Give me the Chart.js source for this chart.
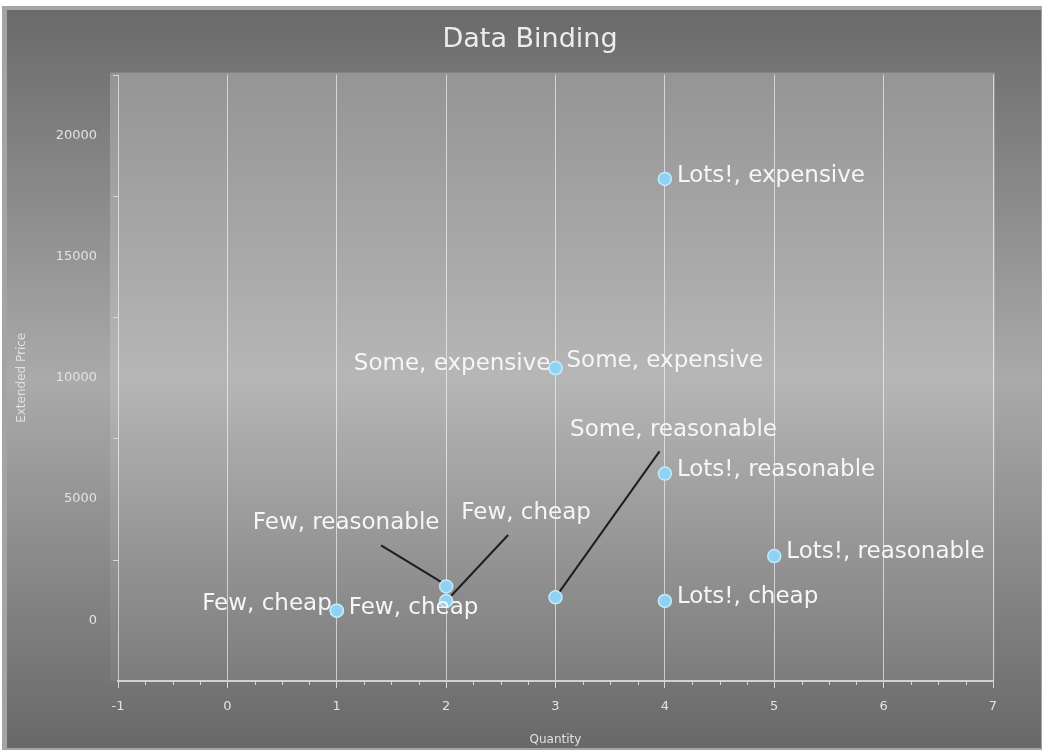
<!DOCTYPE html>
<html>
<head>
<meta charset="utf-8">
<script src="https://cdn.jsdelivr.net/npm/chart.js@4/dist/chart.umd.min.js"></script>
<style>
    html, body { margin: 0; padding: 0; background: #ffffff; }
    #wrap { width: 1044px; height: 750px; }
</style>
</head>
<body>
<div id="wrap"><canvas id="bindingChart" width="1044" height="750"></canvas></div>
<script>
const quantities = [1, 1, 2, 2, 3, 3, 3, 4, 4, 4, 5];
const prices = [400, 400, 1400, 800, 950, 10400, 10400, 18200, 6050, 800, 2650];
const pointLabels = [
    'Few, cheap', 'Few, cheap', 'Few, reasonable', 'Few, cheap', 'Some, reasonable',
    'Some, expensive', 'Some, expensive', 'Lots!, expensive', 'Lots!, reasonable',
    'Lots!, cheap', 'Lots!, reasonable'
];
const xTicks = [-1, 0, 1, 2, 3, 4, 5, 6, 7];
const yTicks = [0, 5000, 10000, 15000, 20000];
const chartTitle = 'Data Binding';

// label placement per point: side + pixel offsets (style only)
const labelPlacement = [
    { side: 'left', dx: -5, dy: -7 },
    { side: 'right', dx: 12, dy: -3 },
    { side: 'leader', dx: -100, dy: -63, lx: -65, ly: -41, ex: -1, ey: -2 },
    { side: 'leader', dx: 80, dy: -88, lx: 62, ly: -66, ex: 3, ey: -3 },
    { side: 'leader', dx: 118, dy: -167, lx: 104, ly: -146, ex: 0, ey: 0 },
    { side: 'left', dx: -5, dy: -4 },
    { side: 'right', dx: 11, dy: -7 },
    { side: 'right', dx: 12, dy: -3 },
    { side: 'right', dx: 12, dy: -4 },
    { side: 'right', dx: 12, dy: -4 },
    { side: 'right', dx: 12, dy: -4 }
];

const labelFont = '23px "DejaVu Sans", Verdana, sans-serif';

const backdrop = {
    id: 'backdrop',
    beforeDraw(chart) {
        const { ctx, width, height, chartArea: a } = chart;
        ctx.save();
        ctx.fillStyle = '#ffffff';
        ctx.fillRect(0, 0, width, height);
        ctx.fillStyle = '#a4a4a4';
        ctx.fillRect(2, 6, width - 4, height - 6);

        const g = ctx.createLinearGradient(0, 10, 0, height);
        g.addColorStop(0, '#6a6a6a');
        g.addColorStop(0.5, '#aaaaaa');
        g.addColorStop(1, '#686868');
        ctx.fillStyle = g;
        ctx.fillRect(7, 10, width - 10, height - 12);

        const pg = ctx.createLinearGradient(0, a.top, 0, a.bottom);
        pg.addColorStop(0, '#959595');
        pg.addColorStop(0.5, '#b6b6b6');
        pg.addColorStop(1, '#7c7c7c');
        ctx.fillStyle = pg;
        ctx.fillRect(a.left - 8, a.top - 2, a.width + 10, a.height + 2);

        ctx.fillStyle = '#ececec';
        ctx.font = '27px "DejaVu Sans", sans-serif';
        ctx.textAlign = 'center';
        ctx.textBaseline = 'middle';
        ctx.fillText(chartTitle, 530, 40);
        ctx.restore();
    }
};

const minorTicks = {
    id: 'minorTicks',
    afterDraw(chart) {
        const { ctx, scales: { x, y }, chartArea: a } = chart;
        ctx.save();
        ctx.strokeStyle = '#d8d8d8';
        ctx.lineWidth = 1;
        ctx.beginPath();
        for (let i = 0; i < xTicks.length - 1; i++) {
            for (let k = 1; k < 4; k++) {
                const px = Math.round(x.getPixelForValue(xTicks[i] + k * 0.25)) + 0.5;
                ctx.moveTo(px, a.bottom);
                ctx.lineTo(px, a.bottom + 4);
            }
        }
        for (let i = 0; i < yTicks.length; i++) {
            const py = Math.round(y.getPixelForValue(yTicks[i] + 2500)) + 0.5;
            if (py < a.top) continue;
            ctx.moveTo(a.left, py);
            ctx.lineTo(a.left - 5, py);
        }
        ctx.stroke();
        ctx.restore();
    }
};

const leaderLines = {
    id: 'leaderLines',
    beforeDatasetsDraw(chart) {
        const { ctx } = chart;
        const meta = chart.getDatasetMeta(0);
        ctx.save();
        ctx.strokeStyle = '#1e1e1e';
        ctx.lineWidth = 2;
        meta.data.forEach((pt, i) => {
            const p = labelPlacement[i];
            if (p.side !== 'leader') return;
            ctx.beginPath();
            ctx.moveTo(pt.x + p.lx, pt.y + p.ly);
            ctx.lineTo(pt.x + p.ex, pt.y + p.ey);
            ctx.stroke();
        });
        ctx.restore();
    }
};

const pointText = {
    id: 'pointText',
    afterDatasetsDraw(chart) {
        const { ctx } = chart;
        const meta = chart.getDatasetMeta(0);
        ctx.save();
        ctx.font = labelFont;
        ctx.fillStyle = '#f6f6f6';
        ctx.textBaseline = 'middle';
        meta.data.forEach((pt, i) => {
            const p = labelPlacement[i];
            ctx.textAlign = p.side === 'left' ? 'right' : (p.side === 'right' ? 'left' : 'center');
            ctx.fillText(pointLabels[i], pt.x + p.dx, pt.y + p.dy);
        });
        ctx.restore();
    }
};

new Chart(document.getElementById('bindingChart'), {
    type: 'scatter',
    data: {
        datasets: [{
            label: 'Extended Price',
            data: quantities.map((q, i) => ({ x: q, y: prices[i] })),
            pointRadius: 6.5,
            pointHoverRadius: 6.5,
            backgroundColor: '#8fd3f4',
            borderColor: '#c4eafb',
            borderWidth: 1.5
        }]
    },
    options: {
        responsive: false,
        animation: false,
        layout: { padding: { left: 0, right: 51, top: 74.6, bottom: 0 } },
        plugins: {
            legend: { display: false },
            tooltip: { enabled: false },
            title: { display: false }
        },
        scales: {
            x: {
                type: 'linear',
                min: -1,
                max: 7,
                afterBuildTicks: scale => { scale.ticks = xTicks.map(v => ({ value: v })); },
                afterFit: scale => { scale.height = 69; },
                ticks: {
                    color: '#e2e2e2',
                    font: { family: '"DejaVu Sans", sans-serif', size: 13 },
                    padding: 11,
                    callback: v => String(v)
                },
                grid: {
                    color: 'rgba(255,255,255,0.6)',
                    lineWidth: 1,
                    drawTicks: true,
                    tickLength: 7,
                    tickColor: '#d8d8d8'
                },
                border: { display: true, color: '#d0d0d0', width: 2 },
                title: {
                    display: true,
                    text: 'Quantity',
                    color: '#e0e0e0',
                    font: { family: '"DejaVu Sans", sans-serif', size: 12 },
                    padding: { top: 0, bottom: 3 }
                }
            },
            y: {
                type: 'linear',
                min: -2500,
                max: 22500,
                afterBuildTicks: scale => { scale.ticks = yTicks.map(v => ({ value: v })); },
                afterFit: scale => { scale.width = 118; },
                ticks: {
                    color: '#e2e2e2',
                    font: { family: '"DejaVu Sans", sans-serif', size: 13 },
                    padding: 21,
                    callback: v => String(v)
                },
                grid: { display: false, drawTicks: false },
                border: { display: false },
                title: {
                    display: true,
                    text: 'Extended Price',
                    color: '#e0e0e0',
                    font: { family: '"DejaVu Sans", sans-serif', size: 12 },
                    padding: { top: 15, bottom: 0 }
                }
            }
        }
    },
    plugins: [backdrop, minorTicks, leaderLines, pointText]
});
</script>
</body>
</html>
